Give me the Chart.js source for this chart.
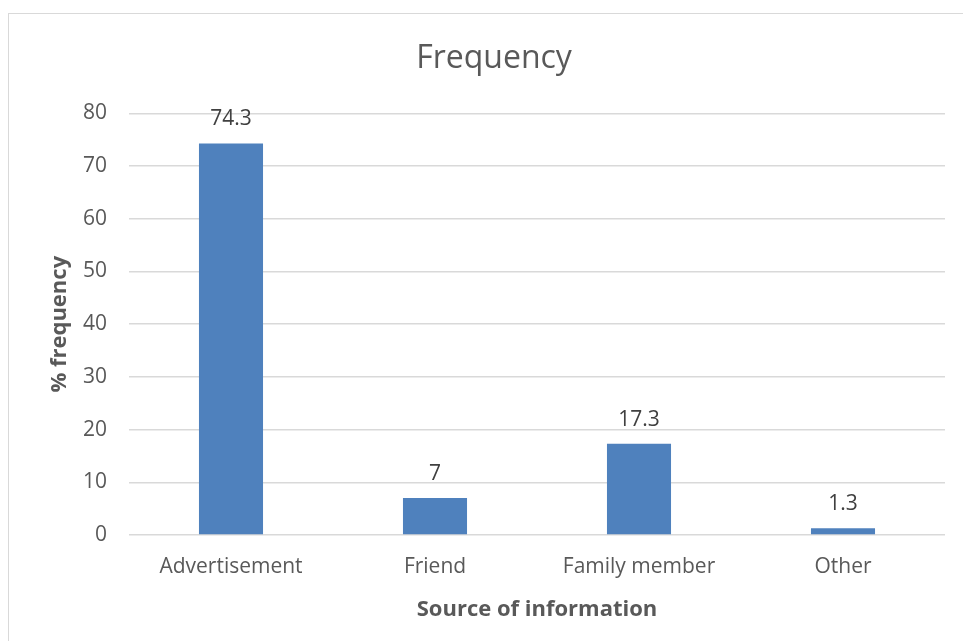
<!DOCTYPE html>
<html>
<head>
<meta charset="utf-8">
<script src="https://cdn.jsdelivr.net/npm/chart.js@4"></script>
<style>
  html, body { margin: 0; padding: 0; background: #fff; }
  body { width: 963px; height: 641px; overflow: hidden; position: relative; }
  #frame { position: absolute; left: 8px; top: 13px; width: 970px; height: 650px; border: 1px solid #d9d9d9; box-sizing: border-box; }
  #wrap { position: absolute; left: 0; top: 0; width: 963px; height: 641px; }
</style>
</head>
<body>
<div id="frame"></div>
<div id="wrap"><canvas id="myChart"></canvas></div>
<script>
const categories = ['Advertisement', 'Friend', 'Family member', 'Other'];
const frequency = [74.3, 7, 17.3, 1.3];
const yTicks = [0, 10, 20, 30, 40, 50, 60, 70, 80];

const ctx = document.getElementById('myChart');
const font = "'Open Sans', 'Noto Sans', sans-serif";

// draws the value above each bar
const valueLabels = {
  id: 'valueLabels',
  afterDatasetsDraw(chart) {
    const c = chart.ctx;
    const meta = chart.getDatasetMeta(0);
    c.save();
    c.font = '21px ' + font;
    c.fillStyle = '#404040';
    c.textAlign = 'center';
    c.textBaseline = 'alphabetic';
    meta.data.forEach(function(bar, i) {
      c.fillText(String(chart.data.datasets[0].data[i]), bar.x, bar.y - 18);
    });
    c.restore();
  }
};

let myChart = new Chart(ctx, {
  type: 'bar',
  data: {
    labels: categories,
    datasets: [{
      label: 'Frequency',
      data: frequency,
      backgroundColor: '#4f81bd',
      borderWidth: 0,
      categoryPercentage: 1,
      barPercentage: 0.314
    }]
  },
  options: {
    responsive: true,
    maintainAspectRatio: false,
    animation: false,
    layout: { padding: { left: 43, right: 18, top: 40, bottom: 18 } },
    plugins: {
      legend: { display: false },
      tooltip: { enabled: false },
      title: {
        display: true,
        text: 'Frequency',
        color: '#595959',
        font: { family: font, size: 32, weight: 'normal' },
        padding: { top: 0, bottom: 35 }
      }
    },
    scales: {
      x: {
        afterFit: function(axis) { axis.height = 88; },
        grid: { display: false, drawTicks: false },
        border: { display: false },
        ticks: { color: '#595959', font: { family: font, size: 21 }, padding: 19 },
        title: {
          display: true,
          text: 'Source of information',
          color: '#595959',
          font: { family: font, size: 22, weight: 'bold' },
          padding: { top: 0, bottom: 0 }
        }
      },
      y: {
        min: 0,
        max: 80,
        afterBuildTicks: function(axis) {
          axis.ticks = yTicks.map(v => ({ value: v }));
        },
        afterFit: function(axis) { axis.width = 86; },
        grid: { color: '#d9d9d9', lineWidth: 1.5, drawTicks: false },
        border: { display: false },
        ticks: { color: '#595959', font: { family: font, size: 21 }, padding: 22 },
        title: {
          display: true,
          text: '% frequency',
          color: '#595959',
          font: { family: font, size: 22, weight: 'bold' },
          padding: { top: 4, bottom: 0 }
        }
      }
    }
  },
  plugins: [valueLabels]
});
</script>
</body>
</html>
